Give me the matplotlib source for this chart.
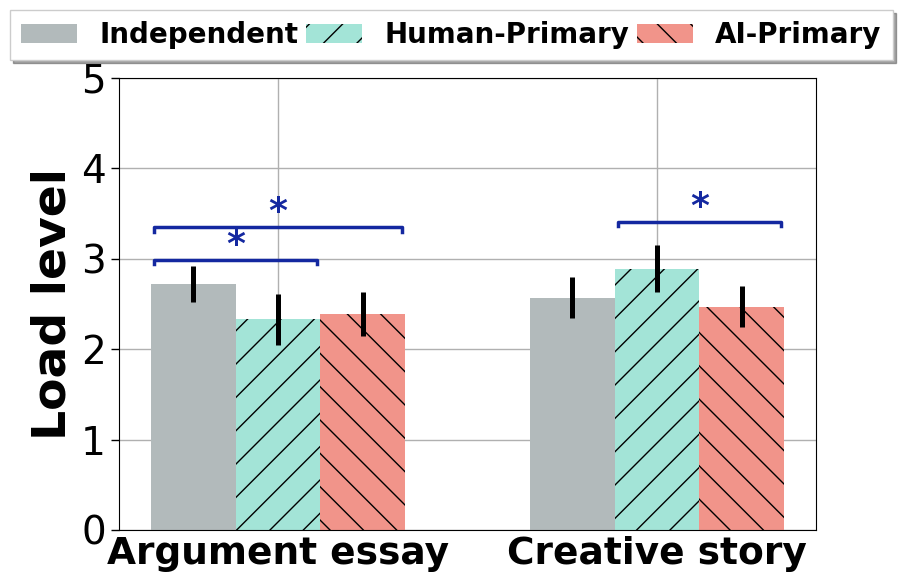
import numpy as np
import matplotlib
matplotlib.use("Agg")
import matplotlib.pyplot as plt
from matplotlib.patches import Patch

tasks = ["Argument essay", "Creative story"]
modes = ["Independent", "Human-Primary", "AI-Primary"]
means = {
    "Independent": [2.72, 2.57],
    "Human-Primary": [2.33, 2.89],
    "AI-Primary": [2.39, 2.47],
}
errs = {
    "Independent": [0.20, 0.23],
    "Human-Primary": [0.28, 0.26],
    "AI-Primary": [0.24, 0.23],
}
colors = {"Independent": "#b2babb", "Human-Primary": "#a3e4d7", "AI-Primary": "#f1948a"}
hatches = {"Independent": "", "Human-Primary": "/", "AI-Primary": "\\"}
# (task index, mode a, mode b, bracket height)
sig_pairs = [(0, 0, 1, 2.99), (0, 0, 2, 3.35), (1, 1, 2, 3.41)]

fig = plt.figure(figsize=(9.03, 5.86), dpi=100)
ax = fig.add_axes([0.1318, 0.0956, 0.7719, 0.7713])

x = np.arange(len(tasks))
w = 0.224
for i, m in enumerate(modes):
    ax.bar(x + (i - 1) * w, means[m], w, color=colors[m], hatch=hatches[m],
           edgecolor="black", linewidth=0, zorder=2)
    ax.errorbar(x + (i - 1) * w, means[m], yerr=errs[m], fmt="none",
                ecolor="black", elinewidth=3.6, capsize=0, zorder=3)

blue = "#1428a0"
for t, a, b, h in sig_pairs:
    x1 = x[t] + (a - 1) * w - 0.46 * w
    x2 = x[t] + (b - 1) * w + 0.46 * w
    ax.plot([x1, x1, x2, x2], [h - 0.05, h, h, h - 0.05], color=blue, lw=2.5, zorder=4)
    ax.text((x1 + x2) / 2, h - 0.02, "*", color=blue, fontsize=26,
            ha="center", va="bottom", fontweight="bold")

ax.set_ylim(0, 5)
ax.set_yticks([0, 1, 2, 3, 4, 5])
ax.set_xticks(x)
ax.set_xticklabels(tasks, fontsize=27, fontweight="bold")
ax.tick_params(axis="y", labelsize=28, length=6, width=1)
ax.tick_params(axis="x", length=0, pad=4)
ax.set_ylabel("Load level", fontsize=34, fontweight="bold", labelpad=4)
ax.grid(True, color="#b0b0b0", lw=1, zorder=0)
ax.set_axisbelow(True)

handles = [Patch(facecolor=colors[m], hatch=hatches[m], edgecolor="black", linewidth=0)
           for m in modes]
fig.legend(handles, modes, loc="upper center", bbox_to_anchor=(0.5, 0.983), ncol=3,
           prop={"weight": "bold", "size": 20}, shadow=True, fancybox=False,
           handlelength=2.0, columnspacing=0.3, handletextpad=0.8, borderaxespad=0)

fig.savefig("out.png", dpi=100)
